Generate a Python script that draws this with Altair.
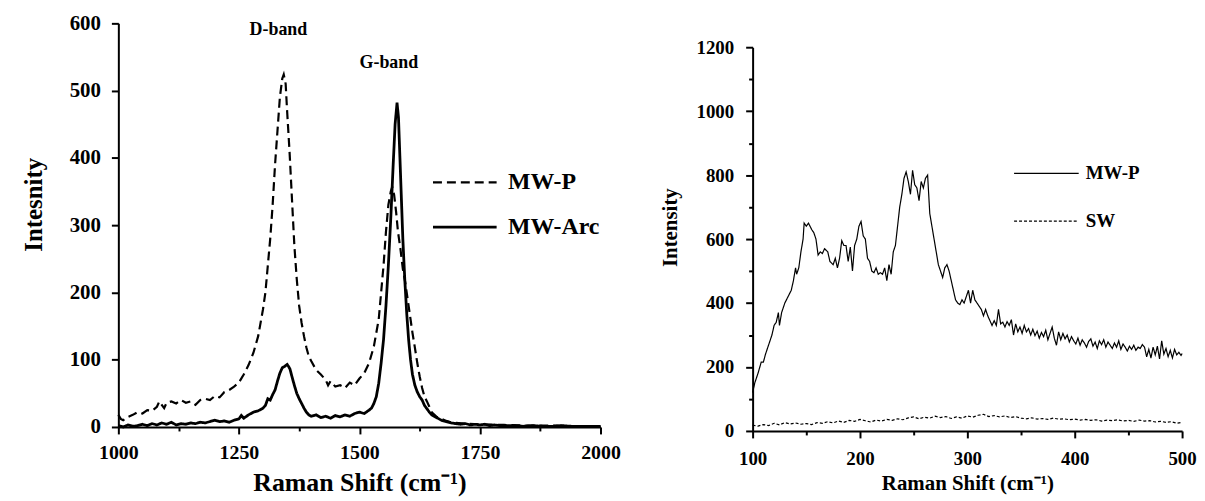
import altair as alt
import pandas as pd

FONT = "Liberation Serif"

# ---------------- Left panel: D/G bands ----------------
mwp_x = [1000, 1005, 1010, 1020, 1030, 1040, 1050, 1060, 1070, 1080, 1085, 1090, 1095, 1100, 1110,
         1120, 1130, 1140, 1150, 1160, 1170, 1180, 1190, 1200, 1210, 1220, 1230, 1240, 1250, 1260,
         1270, 1280, 1290, 1300, 1305, 1310, 1315, 1320, 1325, 1330, 1335, 1340, 1343, 1347, 1350,
         1355, 1360, 1365, 1370, 1375, 1380, 1385, 1390, 1395, 1400, 1410, 1420, 1430, 1435, 1440,
         1450, 1460, 1470, 1480, 1490, 1500, 1510, 1520, 1530, 1540, 1545, 1550, 1555, 1560, 1565,
         1568, 1572, 1576, 1580, 1585, 1590, 1595, 1600, 1605, 1610, 1615, 1620, 1625, 1630, 1635,
         1640, 1645, 1650, 1660, 1670, 1680, 1690, 1700, 1720, 1750, 1800, 1850, 1900, 1950, 2000]
mwp_y = [18, 12, 10, 15, 18, 22, 20, 25, 24, 30, 38, 33, 28, 36, 38,
         35, 40, 36, 38, 33, 40, 42, 40, 46, 44, 52, 55, 60, 66, 78,
         92, 110, 135, 175, 200, 240, 280, 330, 390, 440, 490, 518, 524, 510, 470,
         410, 340, 270, 220, 180, 155, 135, 118, 105, 98, 85, 78, 70, 62, 68,
         60, 62, 58, 66, 62, 72, 80, 95, 120, 160, 200, 240, 290, 330, 350,
         357, 345, 320, 290, 265, 235, 215, 190, 165, 140, 118, 95, 75, 58, 45,
         38, 30, 22, 15, 12, 9, 7, 6, 5, 4, 3, 2, 2, 1, 1]

arc_x = [1000, 1010, 1020, 1030, 1040, 1050, 1060, 1070, 1080, 1090, 1100, 1110, 1120, 1130, 1140,
         1150, 1160, 1170, 1180, 1190, 1200, 1210, 1220, 1230, 1240, 1250, 1255, 1260, 1270, 1280,
         1290, 1300, 1305, 1310, 1315, 1320, 1325, 1330, 1335, 1340, 1345, 1350, 1353, 1356, 1360,
         1365, 1370, 1375, 1380, 1385, 1390, 1395, 1400, 1410, 1420, 1430, 1440, 1450, 1460, 1470,
         1480, 1490, 1500, 1510, 1520, 1525, 1530, 1535, 1540, 1545, 1550, 1555, 1560, 1565, 1570,
         1574, 1578, 1581, 1584, 1587, 1590, 1594, 1598, 1602, 1606, 1610, 1615, 1620, 1625, 1630,
         1635, 1640, 1645, 1650, 1660, 1670, 1680, 1690, 1700, 1710, 1720, 1730, 1740, 1750, 1760,
         1770, 1780, 1790, 1800, 1820, 1840, 1860, 1880, 1900, 1920, 1940, 1960, 1980, 2000]
arc_y = [2, 0, 3, 1, 2, 4, 2, 5, 3, 6, 4, 7, 3, 5, 4,
         6, 5, 7, 6, 8, 10, 8, 9, 7, 10, 12, 17, 13, 18, 22,
         24, 28, 32, 42, 40, 48, 55, 68, 80, 88, 90, 93, 90, 86, 75,
         62, 50, 42, 35, 28, 22, 18, 16, 18, 14, 16, 13, 17, 15, 18,
         16, 20, 22, 20, 25, 28, 35, 45, 65, 95, 130, 180, 240, 310, 390,
         450, 482, 460, 400, 340, 280, 220, 170, 130, 100, 78, 62, 52, 45, 40,
         32, 27, 22, 18, 14, 10, 8, 6, 5, 4, 5, 3, 4, 3, 4,
         2, 3, 2, 2, 2, 1, 2, 1, 1, 2, 1, 1, 1, 1]

left_series = ["MW-P", "MW-Arc"]
band_labels = ["D-band", "G-band"]
band_x = [1332, 1561]
band_y = [590, 541]

# ---------------- Right panel: RBM region ----------------
rbm_x = [100, 102, 105, 108, 110, 112, 115, 118, 120, 122, 124, 125, 127, 130, 133, 136, 138, 140,
         141, 143, 145, 147, 148, 150, 152, 155, 157, 159, 161, 163, 165, 167, 170, 172, 175, 177,
         179, 181, 183, 185, 187, 189, 191, 193, 195, 197, 199, 201, 203, 205, 207, 209, 211, 213,
         215, 217, 219, 221, 223, 225, 227, 229, 231, 233, 235, 237, 239, 241, 243, 245, 247, 249,
         251, 253, 255, 257, 259, 261, 263, 265, 267, 269, 271, 273, 275, 277, 279, 281, 283, 285,
         287, 289, 291, 293, 295, 297, 299, 301, 303, 305, 307, 309, 311, 313, 315, 317, 319, 321,
         323, 325, 327,
         329, 331, 333, 335, 337, 339, 341, 343, 345, 347,
         349, 351, 353, 355, 357, 359, 361, 363, 365, 367,
         369, 371, 373, 375, 377, 379, 381, 383, 385, 387,
         389, 391, 393, 395, 397, 399, 401, 403, 405, 407,
         409, 411, 413, 415, 417, 419, 421, 423, 425, 427,
         429, 431, 433, 435, 437, 439, 441, 443, 445, 447,
         449, 451, 453, 455, 457, 459, 461, 463, 465, 467,
         469, 471, 473, 475, 477, 479, 481, 483, 485, 487,
         489, 491, 493, 495, 497, 499, 500]
mwp_rbm = [120, 150, 180, 215, 215, 240, 270, 300, 330, 340, 370, 330, 370, 400, 420, 440, 470, 510,
           490, 510, 560, 600, 650, 640, 650, 630, 620, 600, 550, 560, 555, 570, 560, 530, 520, 540,
           510, 540, 595, 580, 580, 530, 575, 500, 580, 600, 640, 655, 610, 600, 540, 530, 500, 495,
           510, 490, 495, 490, 510, 470, 520, 490, 560, 580, 640, 700, 740, 790, 810, 780, 740, 815,
           770, 760, 720, 780, 760, 790, 800, 680, 640, 600, 560, 520, 500, 480, 510, 520, 500, 470,
           440, 410, 400, 395, 410, 400, 420, 440, 400, 440, 410, 400, 390, 380, 360, 380, 360, 345,
           330, 345, 330,
           380, 335, 340, 325, 342, 330, 348, 300, 335, 310,
           325, 305, 330, 310, 320, 300, 318, 298, 312, 290,
           308, 295, 315, 285, 305, 325, 290, 268, 310, 285,
           305, 288, 300, 278, 295, 282, 272, 290, 268, 285,
           275, 262, 280, 288, 265, 278, 258, 282, 270, 285,
           262, 278, 268, 258, 275, 262, 282, 255, 272, 262,
           250, 265, 255, 268, 252, 262, 258, 270, 262, 232,
           255, 228, 262, 238, 265, 225, 282, 240, 258, 232,
           252, 228, 255, 238, 246, 236, 242]

sw_x = [100, 105, 110, 115, 120, 125, 130, 135, 140, 145, 150, 155, 160, 165, 170, 175, 180, 185,
        190, 195, 200, 205, 210, 215, 220, 225, 230, 235, 240, 245, 250, 255, 260, 265, 270, 275,
        280, 285, 290, 295, 300, 305, 310, 315, 320, 325, 330, 335, 340, 345, 350, 355, 360, 365,
        370, 375, 380, 385, 390, 395, 400, 405, 410, 415, 420, 425, 430, 435, 440, 445, 450, 455,
        460, 465, 470, 475, 480, 485, 490, 495, 500]
sw_rbm = [18, 15, 20, 17, 24, 19, 26, 22, 25, 21, 23, 20, 26, 24, 29, 25, 31, 27,
          33, 30, 36, 32, 28, 34, 31, 36, 33, 38, 35, 41, 44, 38, 43, 40, 46, 42,
          45, 39, 44, 40, 47, 43, 49, 52, 45, 48, 44, 47, 42, 45, 40, 38, 41, 37,
          39, 36, 40, 37, 38, 35, 37, 34, 36, 33, 35, 31, 34, 32, 35, 31, 33, 30,
          34, 31, 32, 28, 30, 27, 29, 24, 27]

right_series = ["MW-P", "SW"]

# ---------------- Build tables ----------------
left_df = pd.concat([
    pd.DataFrame({"shift": mwp_x, "intensity": mwp_y, "series": left_series[0]}),
    pd.DataFrame({"shift": arc_x, "intensity": arc_y, "series": left_series[1]}),
])
band_df = pd.DataFrame({"shift": band_x, "intensity": band_y, "label": band_labels})
right_df = pd.concat([
    pd.DataFrame({"shift": rbm_x, "intensity": mwp_rbm, "series": right_series[0]}),
    pd.DataFrame({"shift": sw_x, "intensity": sw_rbm, "series": right_series[1]}),
])


def axis(values, major, label_size, title_size, tick_major, tick_minor, label_pad, title_pad,
         title_y=None):
    kw = {}
    if title_y is not None:
        kw["titleY"] = title_y
    return alt.Axis(
        values=values,
        format="d",
        labelExpr=f"datum.value % {major} === 0 ? datum.label : ''",
        tickSize={"condition": {"test": f"datum.value % {major} !== 0", "value": tick_minor},
                  "value": tick_major},
        labelFont=FONT, labelFontSize=label_size, labelFontWeight="bold", labelColor="black",
        labelPadding=label_pad,
        titleFont=FONT, titleFontSize=title_size, titleFontWeight="bold", titleColor="black",
        titlePadding=title_pad,
        domainColor="black", domainWidth=2, tickColor="black", tickWidth=2,
        grid=False, labelFlush=False, labelOverlap=False,
        **kw,
    )


left_lines = alt.Chart(left_df).mark_line(color="black").encode(
    x=alt.X("shift:Q", title="Raman Shift (cm⁻¹)",
            scale=alt.Scale(domain=[1000, 2000], nice=False),
            axis=axis([1000 + 125 * i for i in range(9)], 250, 20, 26, 7, 4, 9, 7)),
    y=alt.Y("intensity:Q", title="Intesnity",
            scale=alt.Scale(domain=[0, 600], nice=False),
            axis=axis([50 * i for i in range(13)], 100, 21, 25, 7, 4, 11, 23, title_y=182)),
    strokeDash=alt.StrokeDash(
        "series:N", sort=left_series,
        scale=alt.Scale(domain=left_series, range=[[9, 5], [1, 0]]),
        legend=alt.Legend(
            title=None, orient="none", legendX=315, legendY=148,
            symbolType="stroke", symbolSize=4096, symbolStrokeWidth=2.8,
            symbolStrokeColor="black", labelFont=FONT, labelFontSize=24,
            labelFontWeight="bold", labelColor="black", labelOffset=10,
            clipHeight=24, rowPadding=21, padding=0,
        ),
    ),
    strokeWidth=alt.StrokeWidth(
        "series:N", sort=left_series,
        scale=alt.Scale(domain=left_series, range=[2.2, 2.8]),
        legend=None,
    ),
    order="shift:Q",
)

left_text = alt.Chart(band_df).mark_text(
    font=FONT, fontSize=18, fontWeight="bold", color="black", baseline="middle"
).encode(x="shift:Q", y="intensity:Q", text="label:N")

left = alt.layer(left_lines, left_text).properties(width=485, height=406)

right = alt.Chart(right_df).mark_line(color="black", strokeWidth=1.2).encode(
    x=alt.X("shift:Q", title="Raman Shift (cm⁻¹)",
            scale=alt.Scale(domain=[100, 500], nice=False),
            axis=axis([100 + 50 * i for i in range(9)], 100, 19, 21, 7, 4, 12, 4)),
    y=alt.Y("intensity:Q", title="Intensity",
            scale=alt.Scale(domain=[0, 1200], nice=False, range=[410, 24]),
            axis=axis([100 * i for i in range(13)], 200, 19, 21, 7, 4, 12, 16, title_y=205)),
    strokeDash=alt.StrokeDash(
        "series:N", sort=right_series,
        scale=alt.Scale(domain=right_series, range=[[1, 0], [3, 2]]),
        legend=alt.Legend(
            title=None, orient="none", legendX=262, legendY=141,
            symbolType="stroke", symbolSize=4225, symbolStrokeWidth=1.3,
            symbolStrokeColor="black", labelFont=FONT, labelFontSize=19,
            labelFontWeight="bold", labelColor="black", labelOffset=6,
            clipHeight=20, rowPadding=28, padding=0,
        ),
    ),
    order="shift:Q",
).properties(width=432, height=410)

chart = alt.hconcat(left, right, spacing=153, bounds="flush").resolve_scale(
    strokeDash="independent", strokeWidth="independent"
).resolve_legend(strokeDash="independent").properties(
    padding={"left": 13, "top": 3, "right": 0, "bottom": 0},
    background="white",
).configure_view(stroke="transparent", strokeWidth=0)

chart.save("out.html", embed_options={"renderer": "svg", "actions": False})
